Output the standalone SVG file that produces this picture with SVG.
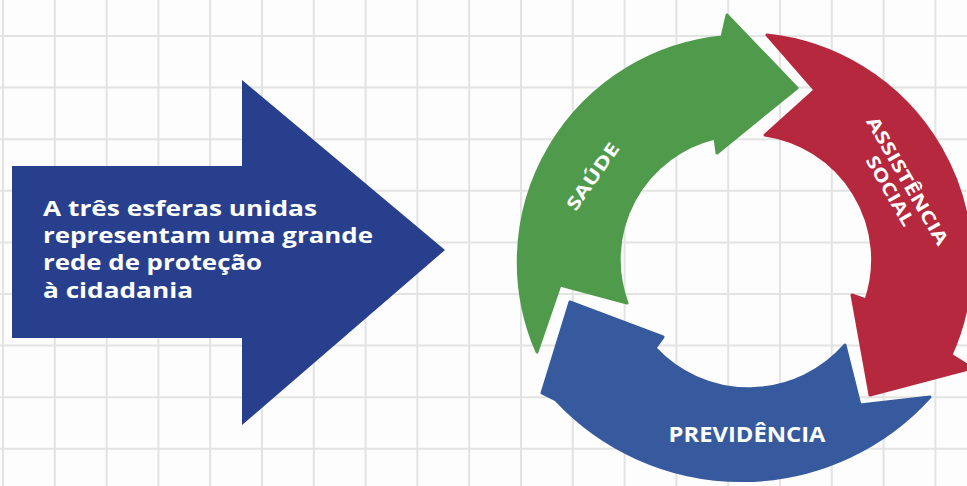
<svg xmlns="http://www.w3.org/2000/svg" width="967" height="486" viewBox="0 0 967 486">
  <style>
    .grid line { stroke: #e3e3e3; stroke-width: 2; }
    .lbl { font-family: "Open Sans", "Liberation Sans", sans-serif; font-weight: 700; fill: #ffffff; }
    .shape { stroke-linejoin: round; stroke-width: 3; }
  </style>
  <rect x="0" y="0" width="967" height="486" fill="#fdfdfd"/>
  <g class="grid" id="grid">
    <line x1="3" y1="0" x2="3" y2="486"/>
    <line x1="54.8" y1="0" x2="54.8" y2="486"/>
    <line x1="106.6" y1="0" x2="106.6" y2="486"/>
    <line x1="158.4" y1="0" x2="158.4" y2="486"/>
    <line x1="210.2" y1="0" x2="210.2" y2="486"/>
    <line x1="262" y1="0" x2="262" y2="486"/>
    <line x1="313.8" y1="0" x2="313.8" y2="486"/>
    <line x1="365.6" y1="0" x2="365.6" y2="486"/>
    <line x1="417.4" y1="0" x2="417.4" y2="486"/>
    <line x1="469.2" y1="0" x2="469.2" y2="486"/>
    <line x1="521" y1="0" x2="521" y2="486"/>
    <line x1="572.8" y1="0" x2="572.8" y2="486"/>
    <line x1="624.6" y1="0" x2="624.6" y2="486"/>
    <line x1="676.4" y1="0" x2="676.4" y2="486"/>
    <line x1="728.2" y1="0" x2="728.2" y2="486"/>
    <line x1="780" y1="0" x2="780" y2="486"/>
    <line x1="831.8" y1="0" x2="831.8" y2="486"/>
    <line x1="883.6" y1="0" x2="883.6" y2="486"/>
    <line x1="935.4" y1="0" x2="935.4" y2="486"/>
    <line x1="0" y1="36" x2="967" y2="36"/>
    <line x1="0" y1="87.6" x2="967" y2="87.6"/>
    <line x1="0" y1="139.2" x2="967" y2="139.2"/>
    <line x1="0" y1="190.8" x2="967" y2="190.8"/>
    <line x1="0" y1="242.4" x2="967" y2="242.4"/>
    <line x1="0" y1="294" x2="967" y2="294"/>
    <line x1="0" y1="345.6" x2="967" y2="345.6"/>
    <line x1="0" y1="397.2" x2="967" y2="397.2"/>
    <line x1="0" y1="448.8" x2="967" y2="448.8"/>
  </g>

  <g id="main-arrow">
    <polygon points="12,166 242,166 242,80 445,250 242,425 242,338 12,338" fill="#283f8d"/>
    <text class="lbl" font-size="20.5">
      <tspan x="43" y="216" textLength="274" lengthAdjust="spacingAndGlyphs">A três esferas unidas</tspan>
      <tspan x="43" y="243" textLength="330" lengthAdjust="spacingAndGlyphs">representam uma grande</tspan>
      <tspan x="43" y="270" textLength="219" lengthAdjust="spacingAndGlyphs">rede de proteção</tspan>
      <tspan x="43" y="298" textLength="150" lengthAdjust="spacingAndGlyphs">à cidadania</tspan>
    </text>
  </g>

  <g id="node-saude">
    <path class="shape" fill="#4f9a4b" stroke="#4f9a4b" d="M 537 352 A 226 226 0 0 1 722 37 L 727 15 L 797 88 L 717 153 L 715 138 A 125 125 0 0 0 627 303 L 560 285 Z"/>
    <text class="lbl" font-size="18" text-anchor="middle" transform="translate(598,180) rotate(-55)" textLength="78" lengthAdjust="spacingAndGlyphs">SAÚDE</text>
  </g>

  <g id="node-assistencia">
    <path class="shape" fill="#b6283d" stroke="#b6283d" d="M 767 35 A 228 228 0 0 1 951 355 L 972 368 L 870 395 L 852 295 L 866 300 A 126 126 0 0 0 765 135 L 815 90 Z"/>
    <g transform="translate(902,184) rotate(60)">
      <text class="lbl" font-size="18" text-anchor="middle" x="0" y="0" textLength="145" lengthAdjust="spacingAndGlyphs">ASSISTÊNCIA</text>
      <text class="lbl" font-size="18" text-anchor="middle" x="0" y="20" textLength="78" lengthAdjust="spacingAndGlyphs">SOCIAL</text>
    </g>
  </g>

  <g id="node-previdencia">
    <path class="shape" fill="#365a9d" stroke="#365a9d" d="M 930 397 A 254 254 0 0 1 556 400 L 542 393 L 570 302 L 663 337 L 655 348 A 128 128 0 0 0 845 345 L 860 405 Z"/>
    <text class="lbl" font-size="21" text-anchor="middle" x="747" y="442" textLength="157" lengthAdjust="spacingAndGlyphs">PREVIDÊNCIA</text>
  </g>

  <g id="connectors"/>
</svg>
